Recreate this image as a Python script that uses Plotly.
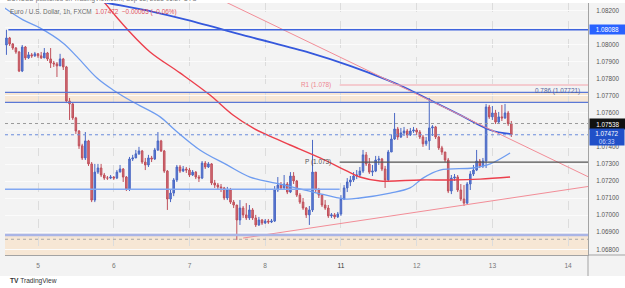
import plotly.graph_objects as go

# ---------------- data (EUR/USD 1h, FXCM) ----------------
idx = list(range(-10, 151))  # hourly bar index, 0 = day 5 00:00 (weekend removed)

close = [1.08040, 1.08005, 1.07981, 1.07958, 1.07846, 1.07987, 1.07923, 1.07941, 1.07935, 1.07947,
         1.07935, 1.07923, 1.07952, 1.07917, 1.07893, 1.07888, 1.07876, 1.07917, 1.07870, 1.07670,
         1.07653, 1.07571, 1.07494, 1.07407, 1.07336, 1.07436, 1.07301, 1.07089, 1.07253, 1.07277,
         1.07236, 1.07218, 1.07218, 1.07224, 1.07218, 1.07253, 1.07271, 1.07224, 1.07154, 1.07330,
         1.07336, 1.07360, 1.07377, 1.07312, 1.07295, 1.07336, 1.07330, 1.07383, 1.07436, 1.07377,
         1.07259, 1.07095, 1.07130, 1.07207, 1.07283, 1.07259, 1.07271, 1.07265, 1.07236, 1.07253,
         1.07224, 1.07218, 1.07306, 1.07283, 1.07301, 1.07189, 1.07177, 1.07166, 1.07160, 1.07101,
         1.07148, 1.07077, 1.07060, 1.06972, 1.07042, 1.07002, 1.06984, 1.07031, 1.06984, 1.06943,
         1.06972, 1.06954, 1.06966, 1.06960, 1.06966, 1.07148, 1.07177, 1.07160, 1.07183, 1.07136,
         1.07230, 1.07201, 1.07118, 1.07077, 1.07042, 1.07002, 1.07031, 1.07253, 1.07148, 1.07118,
         1.07060, 1.07042, 1.06996, 1.07002, 1.06990, 1.07007, 1.07095, 1.07160, 1.07195, 1.07207,
         1.07230, 1.07236, 1.07259, 1.07354, 1.07301, 1.07253, 1.07259, 1.07324, 1.07330, 1.07271,
         1.07207, 1.07371, 1.07447, 1.07506, 1.07459, 1.07483, 1.07494, 1.07471, 1.07494, 1.07500,
         1.07488, 1.07459, 1.07419, 1.07436, 1.07512, 1.07518, 1.07459, 1.07395, 1.07371, 1.07324,
         1.07142, 1.07218, 1.07224, 1.07148, 1.07095, 1.07071, 1.07183, 1.07242, 1.07265, 1.07318,
         1.07289, 1.07318, 1.07635, 1.07577, 1.07600, 1.07547, 1.07577, 1.07571, 1.07600, 1.07537,
         1.07472]

high = [1.08088, 1.08046, 1.08010, 1.07987, 1.07964, 1.07999, 1.07993, 1.07958, 1.07952, 1.07958,
        1.07952, 1.07958, 1.07981, 1.07958, 1.07981, 1.07905, 1.07899, 1.07947, 1.07923, 1.07876,
        1.07688, 1.07658, 1.07577, 1.07500, 1.07419, 1.07488, 1.07442, 1.07312, 1.07301, 1.07301,
        1.07301, 1.07248, 1.07230, 1.07236, 1.07230, 1.07265, 1.07295, 1.07277, 1.07230, 1.07342,
        1.07354, 1.07383, 1.07401, 1.07383, 1.07336, 1.07354, 1.07348, 1.07395, 1.07488, 1.07442,
        1.07383, 1.07265, 1.07148, 1.07218, 1.07295, 1.07295, 1.07289, 1.07283, 1.07277, 1.07265,
        1.07259, 1.07236, 1.07318, 1.07318, 1.07312, 1.07306, 1.07207, 1.07189, 1.07183, 1.07166,
        1.07166, 1.07160, 1.07089, 1.07060, 1.07089, 1.07054, 1.07071, 1.07060, 1.07042, 1.07002,
        1.06990, 1.06978, 1.06978, 1.06978, 1.06978, 1.07171, 1.07224, 1.07195, 1.07236, 1.07195,
        1.07253, 1.07253, 1.07207, 1.07130, 1.07101, 1.07048, 1.07054, 1.07442, 1.07253, 1.07160,
        1.07118, 1.07089, 1.07060, 1.07013, 1.07013, 1.07019, 1.07118, 1.07177, 1.07218, 1.07230,
        1.07253, 1.07265, 1.07283, 1.07383, 1.07371, 1.07336, 1.07295, 1.07348, 1.07348, 1.07336,
        1.07289, 1.07383, 1.07471, 1.07600, 1.07518, 1.07512, 1.07518, 1.07506, 1.07512, 1.07518,
        1.07512, 1.07500, 1.07471, 1.07459, 1.07688, 1.07529, 1.07524, 1.07465, 1.07407, 1.07371,
        1.07336, 1.07236, 1.07242, 1.07236, 1.07183, 1.07177, 1.07195, 1.07259, 1.07295, 1.07383,
        1.07330, 1.07336, 1.07653, 1.07647, 1.07641, 1.07618, 1.07606, 1.07647, 1.07653, 1.07612,
        1.07553]

low = [1.07941, 1.07993, 1.07970, 1.07947, 1.07840, 1.07840, 1.07911, 1.07917, 1.07923, 1.07929,
       1.07923, 1.07917, 1.07923, 1.07905, 1.07864, 1.07870, 1.07811, 1.07876, 1.07852, 1.07658,
       1.07559, 1.07559, 1.07477, 1.07389, 1.07324, 1.07324, 1.07289, 1.07077, 1.07077, 1.07242,
       1.07224, 1.07207, 1.07207, 1.07212, 1.07207, 1.07212, 1.07253, 1.07195, 1.07142, 1.07142,
       1.07318, 1.07336, 1.07354, 1.07301, 1.07265, 1.07283, 1.07312, 1.07324, 1.07377, 1.07371,
       1.07248, 1.07031, 1.07077, 1.07112, 1.07195, 1.07248, 1.07253, 1.07248, 1.07224, 1.07230,
       1.07212, 1.07195, 1.07212, 1.07271, 1.07277, 1.07177, 1.07160, 1.07148, 1.07136, 1.07089,
       1.07089, 1.07066, 1.07042, 1.06855, 1.06943, 1.06984, 1.06972, 1.06972, 1.06972, 1.06931,
       1.06937, 1.06943, 1.06949, 1.06949, 1.06954, 1.06960, 1.07136, 1.07148, 1.07154, 1.07124,
       1.07130, 1.07183, 1.07107, 1.07066, 1.07031, 1.06984, 1.06943, 1.07019, 1.07136, 1.07101,
       1.07048, 1.07031, 1.06984, 1.06984, 1.06978, 1.06984, 1.06996, 1.07089, 1.07136, 1.07171,
       1.07195, 1.07212, 1.07224, 1.07248, 1.07289, 1.07242, 1.07230, 1.07253, 1.07295, 1.07259,
       1.07160, 1.07195, 1.07371, 1.07442, 1.07442, 1.07453, 1.07465, 1.07453, 1.07465, 1.07483,
       1.07471, 1.07447, 1.07401, 1.07407, 1.07383, 1.07465, 1.07447, 1.07383, 1.07354, 1.07312,
       1.07130, 1.07124, 1.07201, 1.07136, 1.07083, 1.07054, 1.07066, 1.07148, 1.07230, 1.07259,
       1.07277, 1.07277, 1.07277, 1.07565, 1.07559, 1.07535, 1.07535, 1.07553, 1.07565, 1.07524,
       1.07459]

first_open = 1.07999
open_ = [first_open] + close[:-1]

# moving averages
ma_slow_x = [10.0, 22.2, 35.5, 47.2, 67.2, 86.2, 98.9, 110.6, 117.9, 124.2, 133.8, 143.3, 149.6]
ma_slow_y = [1.08292, 1.08245, 1.08198, 1.08146, 1.08046, 1.07952, 1.07876, 1.07794, 1.07735,
             1.07676, 1.07588, 1.07500, 1.07477]
ma_mid_x = [19.7, 21.2, 28.5, 35.5, 45.0, 54.5, 61.8, 68.1, 72.6, 79.9, 89.4, 97.3, 102.0, 108.4,
            121.1, 131.0, 140.1, 149.6]
ma_mid_y = [1.08281, 1.08245, 1.08087, 1.07958, 1.07835, 1.07705, 1.07588, 1.07512, 1.07471, 1.07412,
            1.07336, 1.07265, 1.07224, 1.07201, 1.07207, 1.07207, 1.07212, 1.07224]
ma_fast_x = [-12.0, -4.75, 0.6, 7.9, 12.4, 18.7, 23.8, 30.1, 38.7, 43.4, 51.3, 59.9, 67.2, 76.7,
             87.2, 97.3, 102.0, 111.6, 117.9, 122.0, 127.4, 137.9, 143.3, 149.6]
ma_fast_y = [1.08234, 1.08146, 1.08099, 1.08011, 1.07929, 1.07805, 1.07735, 1.07664, 1.07577, 1.07500,
             1.07383, 1.07295, 1.07224, 1.07183, 1.07136, 1.07095, 1.07101, 1.07130, 1.07160, 1.07218,
             1.07265, 1.07277, 1.07301, 1.07365]

# trend lines
trend_hi_x = [51.3, 175.2]
trend_hi_y = [1.08324, 1.07218]
trend_lo_x = [65.0, 175.2]
trend_lo_y = [1.06866, 1.07171]

# levels
lvl_top = 1.08088
lvl_r1 = 1.07764
lvl_fib = 1.07721
lvl_fib_lo = 1.07662
lvl_open = 1.07538
lvl_last = 1.07472
lvl_pivot = 1.07312
lvl_mid = 1.07152
lvl_bottom = 1.06884
lvl_bottom_dot = 1.06859

day_ticks = [0, 24, 48, 72, 96, 120, 144, 168]
day_labels = ['5', '6', '7', '8', '<span style="color:#333">11</span>', '12', '13', '14']
grid_prices = [round(1.068 + 0.001 * k, 3) for k in range(15)]
hidden_labels = [1.081, 1.075]  # covered by the price tags in the reference
price_ticks = [p for p in grid_prices if p not in hidden_labels]

X_MIN, X_MAX = -10.46, 174.3
Y_MIN, Y_MAX = 1.067666, 1.082452
SESSION_START = 95.6

# ---------------- figure ----------------
fig = go.Figure()

fig.add_trace(go.Scatter(x=ma_fast_x, y=ma_fast_y, mode='lines', line=dict(color='#6e9cf0', width=1.3, shape='spline'), hoverinfo='skip'))
fig.add_trace(go.Scatter(x=ma_mid_x, y=ma_mid_y, mode='lines', line=dict(color='#ec3f4c', width=1.4, shape='spline'), hoverinfo='skip'))
fig.add_trace(go.Scatter(x=ma_slow_x, y=ma_slow_y, mode='lines', line=dict(color='#3558dc', width=1.8, shape='spline'), hoverinfo='skip'))
fig.add_trace(go.Scatter(x=trend_hi_x, y=trend_hi_y, mode='lines', line=dict(color='#f28d97', width=1), hoverinfo='skip'))
fig.add_trace(go.Scatter(x=trend_lo_x, y=trend_lo_y, mode='lines', line=dict(color='#f28d97', width=1), hoverinfo='skip'))

fig.add_trace(go.Candlestick(
    x=idx, open=open_, high=high, low=low, close=close,
    increasing=dict(line=dict(color='#4a68c4', width=1), fillcolor='#5b7bd3'),
    decreasing=dict(line=dict(color='#c0505b', width=1), fillcolor='#d06e76'),
    whiskerwidth=0, hoverinfo='skip'))

shapes = []
# peach zones
shapes.append(dict(type='rect', xref='paper', yref='y', x0=0, x1=1, y0=lvl_fib_lo, y1=lvl_fib,
                   fillcolor='#f7e7d5', line=dict(width=0), layer='below'))
shapes.append(dict(type='rect', xref='paper', yref='y', x0=0, x1=1, y0=Y_MIN, y1=lvl_bottom,
                   fillcolor='#f7e7d5', line=dict(width=0), layer='below'))
# grid lines for the levels whose labels are hidden
for p in hidden_labels:
    shapes.append(dict(type='line', xref='paper', yref='y', x0=0, x1=1, y0=p, y1=p,
                       line=dict(color='#fbfbfb', width=1), layer='below'))

def hline(y, color, width=1, dash='solid', x0=0, x1=1, xref='paper'):
    shapes.append(dict(type='line', xref=xref, yref='y', x0=x0, x1=x1, y0=y, y1=y,
                       line=dict(color=color, width=width, dash=dash), layer='above'))

hline(lvl_top, '#3e63dd', 1.5, x0=-9.4, x1=X_MAX, xref='x')
hline(lvl_r1, '#f4a3ab', 1, x0=SESSION_START, x1=X_MAX, xref='x')
hline(lvl_fib, '#5a78d6', 1.2)
hline(lvl_fib_lo, '#5a78d6', 1.2)
hline(lvl_open, '#9a9a9a', 1, 'dot')
hline(lvl_last, '#6a8bdc', 1, 'dot')
hline(lvl_pivot, '#555555', 1.3, x0=SESSION_START, x1=X_MAX, xref='x')
hline(lvl_mid, '#82a8f2', 1.4, x0=X_MIN, x1=SESSION_START, xref='x')
hline(lvl_bottom, '#aab5e6', 2.5)
hline(lvl_bottom_dot, '#a8a8a8', 1, 'dot')

# frame pieces outside plot
shapes.append(dict(type='rect', xref='paper', yref='paper', x0=-0.1, x1=1.2, y0=-0.5, y1=-0.0833,
                   fillcolor='white', line=dict(width=0), layer='below'))
shapes.append(dict(type='rect', xref='paper', yref='paper', x0=-0.1, x1=1.2, y0=1.0, y1=1.05,
                   fillcolor='white', line=dict(width=0), layer='below'))
shapes.append(dict(type='line', xref='paper', yref='paper', x0=1, x1=1.07, y0=0, y1=0,
                   line=dict(color='#a3a3a3', width=1)))
shapes.append(dict(type='line', xref='paper', yref='paper', x0=1, x1=1, y0=0, y1=-0.0833,
                   line=dict(color='#a3a3a3', width=1)))

fig.update_layout(shapes=shapes)

ann = []
FONT = 'Liberation Sans, Arial, sans-serif'
ann.append(dict(xref='paper', yref='paper', x=0.006, y=0.964, xanchor='left', yanchor='middle',
                text='Euro / U.S. Dollar, 1h, FXCM  <span style="color:#e0525c">1.07472  −0.00065 (−0.06%)</span>',
                showarrow=False, font=dict(size=6.4, color='#6a6a6a', family=FONT)))
ann.append(dict(xref='paper', yref='paper', x=0.0, y=1.0159, xanchor='left', yanchor='middle',
                text='EURUSD published on TradingView.com, Sep 13, 2023 06:27 UTC',
                showarrow=False, font=dict(size=6.4, color='#777', family=FONT)))
ann.append(dict(xref='x', yref='y', x=93.5, y=lvl_r1, xanchor='right', yanchor='middle',
                text='R1 (1.078)', showarrow=False, font=dict(size=6.4, color='#ee8690', family=FONT)))
ann.append(dict(xref='x', yref='y', x=93.5, y=lvl_pivot, xanchor='right', yanchor='middle',
                text='P (1.073)', showarrow=False, font=dict(size=6.4, color='#555', family=FONT)))
ann.append(dict(xref='paper', yref='y', x=0.9897, y=lvl_fib, xanchor='right', yanchor='middle', yshift=1,
                text='0.786 (1.07721)', showarrow=False, font=dict(size=6.4, color='#54649c', family=FONT)))
# price tags
ann.append(dict(xref='paper', yref='y', x=1, y=lvl_top, xanchor='left', yanchor='middle', xshift=1,
                text='1.08088', showarrow=False, bgcolor='#2962ff', borderpad=1, width=33,
                font=dict(size=6.3, color='white', family=FONT)))
ann.append(dict(xref='paper', yref='y', x=1, y=lvl_open, xanchor='left', yanchor='middle', xshift=1,
                text='1.07538', showarrow=False, bgcolor='#111111', borderpad=1.5, width=33,
                font=dict(size=6.3, color='white', family=FONT)))
ann.append(dict(xref='paper', yref='y', x=1, y=1.07512, xanchor='left', yanchor='top', xshift=1,
                text='1.07472<br><span style="color:#c9d6ff">06:33</span>', showarrow=False,
                bgcolor='#2150c8', borderpad=0.5, width=33,
                font=dict(size=6.3, color='white', family=FONT)))
# footer logo
ann.append(dict(xref='paper', yref='paper', x=0.005, y=-0.105, xanchor='left', yanchor='middle',
                text='<b>TV</b> TradingView', showarrow=False,
                font=dict(size=6.6, color='#333', family=FONT)))
fig.update_layout(annotations=ann)

fig.update_layout(
    width=625, height=288,
    margin=dict(l=5, r=37, t=3, b=33, pad=0),
    paper_bgcolor='#f3f3f3', plot_bgcolor='#f3f3f3',
    showlegend=False,
    font=dict(family=FONT, size=6.4, color='#555'),
    xaxis=dict(range=[X_MIN, X_MAX], tickvals=day_ticks, ticktext=day_labels,
               showgrid=True, gridcolor='#dcdcdc', griddash='dash', gridwidth=1,
               zeroline=False, showline=True, linecolor='#a3a3a3', linewidth=1,
               ticks='', ticklabelstandoff=4, rangeslider=dict(visible=False),
               tickfont=dict(size=6.6, color='#777', family=FONT), fixedrange=True),
    yaxis=dict(range=[Y_MIN, Y_MAX], side='right', tickvals=price_ticks, tickformat='.5f',
               showgrid=True, gridcolor='#fbfbfb', gridwidth=1, zeroline=False,
               showline=True, linecolor='#a3a3a3', linewidth=1, ticks='', ticklabelstandoff=6,
               tickfont=dict(size=6.3, color='#555', family=FONT), fixedrange=True),
)

fig.write_html('out.html')
